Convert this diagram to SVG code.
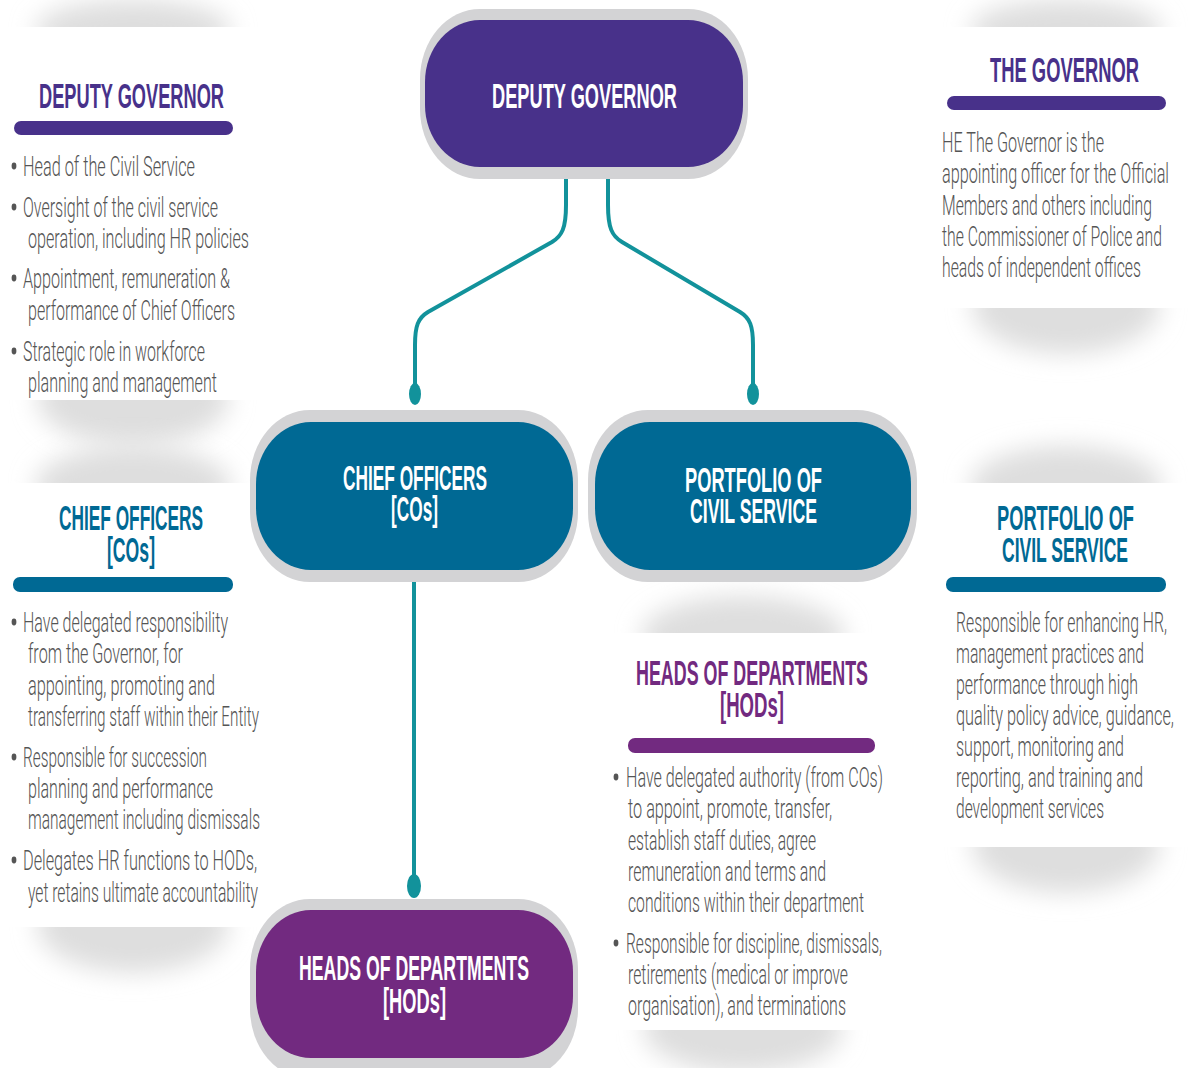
<svg xmlns="http://www.w3.org/2000/svg" width="1188" height="1068" viewBox="0 0 1188 1068">
  <defs>
    <filter id="soft" x="-40%" y="-100%" width="180%" height="300%">
      <feGaussianBlur stdDeviation="12"/>
    </filter>
    <style>
      .card { fill: #ffffff; }
      .sh { fill: #dedede; filter: url(#soft); }
      .ring { fill: #d3d3d5; }
      .purple { fill: #48318a; }
      .teal { fill: #006994; }
      .plum { fill: #722a80; }
      .nodeText { font-family: "Liberation Sans", Arial, sans-serif; font-weight: bold; font-size: 35px; fill: #ffffff; }
      .head { font-family: "Liberation Sans", Arial, sans-serif; font-weight: bold; font-size: 35px; }
      .body { font-family: Roboto, "Liberation Sans", Arial, sans-serif; font-weight: 300; font-size: 28px; fill: #555555; }
      .dot { fill: #555555; }
      .link { fill: none; stroke: #12929b; stroke-width: 4; stroke-linecap: round; stroke-linejoin: round; }
      .pin { fill: #12929b; }
    </style>
  </defs>

  <rect width="1188" height="1068" fill="#ffffff"/>

  <!-- Info cards with soft shadows above and below -->
  <g id="card-deputy-governor">
    <ellipse class="sh" cx="133" cy="30" rx="98" ry="30"/>
    <ellipse class="sh" cx="133" cy="398" rx="96" ry="48"/>
    <rect class="card" x="7" y="27" width="253" height="373"/>
    <text class="head" x="39" y="108" textLength="185" lengthAdjust="spacingAndGlyphs" fill="#48318a">DEPUTY GOVERNOR</text>
    <rect class="purple" x="14" y="121" width="219" height="14" rx="7"/>
    <ellipse class="dot" cx="14" cy="166" rx="2.4" ry="3.4"/>
    <text class="body" x="23" y="176" textLength="172" lengthAdjust="spacingAndGlyphs">Head of the Civil Service</text>
    <ellipse class="dot" cx="14" cy="207" rx="2.4" ry="3.4"/>
    <text class="body" x="23" y="217" textLength="195" lengthAdjust="spacingAndGlyphs">Oversight of the civil service</text>
    <text class="body" x="28" y="248" textLength="221" lengthAdjust="spacingAndGlyphs">operation, including HR policies</text>
    <ellipse class="dot" cx="14" cy="278" rx="2.4" ry="3.4"/>
    <text class="body" x="23" y="288" textLength="207" lengthAdjust="spacingAndGlyphs">Appointment, remuneration &amp;</text>
    <text class="body" x="28" y="320" textLength="207" lengthAdjust="spacingAndGlyphs">performance of Chief Officers</text>
    <ellipse class="dot" cx="14" cy="351" rx="2.4" ry="3.4"/>
    <text class="body" x="23" y="361" textLength="182" lengthAdjust="spacingAndGlyphs">Strategic role in workforce</text>
    <text class="body" x="28" y="392" textLength="189" lengthAdjust="spacingAndGlyphs">planning and management</text>
  </g>

  <g id="card-governor">
    <ellipse class="sh" cx="1066" cy="30" rx="96" ry="30"/>
    <ellipse class="sh" cx="1066" cy="306" rx="94" ry="48"/>
    <rect class="card" x="940" y="27" width="248" height="281"/>
    <text class="head" x="990" y="82" textLength="149" lengthAdjust="spacingAndGlyphs" fill="#48318a">THE GOVERNOR</text>
    <rect class="purple" x="947" y="96" width="219" height="14" rx="7"/>
    <text class="body" x="942" y="152" textLength="162" lengthAdjust="spacingAndGlyphs">HE The Governor is the</text>
    <text class="body" x="942" y="183" textLength="227" lengthAdjust="spacingAndGlyphs">appointing officer for the Official</text>
    <text class="body" x="942" y="215" textLength="210" lengthAdjust="spacingAndGlyphs">Members and others including</text>
    <text class="body" x="942" y="246" textLength="220" lengthAdjust="spacingAndGlyphs">the Commissioner of Police and</text>
    <text class="body" x="942" y="277" textLength="199" lengthAdjust="spacingAndGlyphs">heads of independent offices</text>
  </g>

  <g id="card-chief-officers">
    <ellipse class="sh" cx="133" cy="486" rx="98" ry="40"/>
    <ellipse class="sh" cx="133" cy="925" rx="96" ry="48"/>
    <rect class="card" x="7" y="483" width="253" height="444"/>
    <text class="head" x="59" y="530" textLength="144" lengthAdjust="spacingAndGlyphs" fill="#006994">CHIEF OFFICERS</text>
    <text class="head" x="107" y="562" textLength="48" lengthAdjust="spacingAndGlyphs" fill="#006994">[COs]</text>
    <rect class="teal" x="13" y="577" width="220" height="15" rx="7"/>
    <ellipse class="dot" cx="14" cy="622" rx="2.4" ry="3.4"/>
    <text class="body" x="23" y="632" textLength="205" lengthAdjust="spacingAndGlyphs">Have delegated responsibility</text>
    <text class="body" x="28" y="663" textLength="155" lengthAdjust="spacingAndGlyphs">from the Governor, for</text>
    <text class="body" x="28" y="695" textLength="187" lengthAdjust="spacingAndGlyphs">appointing, promoting and</text>
    <text class="body" x="28" y="726" textLength="231" lengthAdjust="spacingAndGlyphs">transferring staff within their Entity</text>
    <ellipse class="dot" cx="14" cy="757" rx="2.4" ry="3.4"/>
    <text class="body" x="23" y="767" textLength="184" lengthAdjust="spacingAndGlyphs">Responsible for succession</text>
    <text class="body" x="28" y="798" textLength="185" lengthAdjust="spacingAndGlyphs">planning and performance</text>
    <text class="body" x="28" y="829" textLength="232" lengthAdjust="spacingAndGlyphs">management including dismissals</text>
    <ellipse class="dot" cx="14" cy="860" rx="2.4" ry="3.4"/>
    <text class="body" x="23" y="870" textLength="234" lengthAdjust="spacingAndGlyphs">Delegates HR functions to HODs,</text>
    <text class="body" x="28" y="902" textLength="230" lengthAdjust="spacingAndGlyphs">yet retains ultimate accountability</text>
  </g>

  <g id="card-portfolio">
    <ellipse class="sh" cx="1066" cy="486" rx="96" ry="40"/>
    <ellipse class="sh" cx="1066" cy="845" rx="94" ry="48"/>
    <rect class="card" x="940" y="483" width="248" height="364"/>
    <text class="head" x="997" y="530" textLength="137" lengthAdjust="spacingAndGlyphs" fill="#006994">PORTFOLIO OF</text>
    <text class="head" x="1002" y="562" textLength="126" lengthAdjust="spacingAndGlyphs" fill="#006994">CIVIL SERVICE</text>
    <rect class="teal" x="946" y="577" width="220" height="15" rx="7"/>
    <text class="body" x="956" y="632" textLength="211" lengthAdjust="spacingAndGlyphs">Responsible for enhancing HR,</text>
    <text class="body" x="956" y="663" textLength="188" lengthAdjust="spacingAndGlyphs">management practices and</text>
    <text class="body" x="956" y="694" textLength="182" lengthAdjust="spacingAndGlyphs">performance through high</text>
    <text class="body" x="956" y="725" textLength="218" lengthAdjust="spacingAndGlyphs">quality policy advice, guidance,</text>
    <text class="body" x="956" y="756" textLength="168" lengthAdjust="spacingAndGlyphs">support, monitoring and</text>
    <text class="body" x="956" y="787" textLength="187" lengthAdjust="spacingAndGlyphs">reporting, and training and</text>
    <text class="body" x="956" y="818" textLength="148" lengthAdjust="spacingAndGlyphs">development services</text>
  </g>

  <g id="card-heads">
    <ellipse class="sh" cx="743" cy="636" rx="102" ry="40"/>
    <ellipse class="sh" cx="743" cy="1028" rx="100" ry="45"/>
    <rect class="card" x="610" y="633" width="265" height="397"/>
    <text class="head" x="636" y="685" textLength="232" lengthAdjust="spacingAndGlyphs" fill="#722a80">HEADS OF DEPARTMENTS</text>
    <text class="head" x="720" y="717" textLength="64" lengthAdjust="spacingAndGlyphs" fill="#722a80">[HODs]</text>
    <rect class="plum" x="628" y="738" width="247" height="15" rx="7"/>
    <ellipse class="dot" cx="616" cy="777" rx="2.4" ry="3.4"/>
    <text class="body" x="626" y="787" textLength="257" lengthAdjust="spacingAndGlyphs">Have delegated authority (from COs)</text>
    <text class="body" x="628" y="818" textLength="204" lengthAdjust="spacingAndGlyphs">to appoint, promote, transfer,</text>
    <text class="body" x="628" y="850" textLength="188" lengthAdjust="spacingAndGlyphs">establish staff duties, agree</text>
    <text class="body" x="628" y="881" textLength="198" lengthAdjust="spacingAndGlyphs">remuneration and terms and</text>
    <text class="body" x="628" y="912" textLength="236" lengthAdjust="spacingAndGlyphs">conditions within their department</text>
    <ellipse class="dot" cx="616" cy="943" rx="2.4" ry="3.4"/>
    <text class="body" x="626" y="953" textLength="256" lengthAdjust="spacingAndGlyphs">Responsible for discipline, dismissals,</text>
    <text class="body" x="628" y="984" textLength="220" lengthAdjust="spacingAndGlyphs">retirements (medical or improve</text>
    <text class="body" x="628" y="1015" textLength="218" lengthAdjust="spacingAndGlyphs">organisation), and terminations</text>
  </g>

  <!-- Connectors -->
  <g id="connectors">
    <path class="link" d="M566,179 V205 C566,228 562,236 552,242 L428,312 C418,318 415,326 415,345 V386"/>
    <ellipse class="pin" cx="415" cy="394" rx="6" ry="11"/>
    <path class="link" d="M608,179 V205 C608,228 612,236 622,242 L740,312 C750,318 753,326 753,345 V386"/>
    <ellipse class="pin" cx="753" cy="394" rx="6" ry="11"/>
    <path class="link" d="M414,582 V876"/>
    <ellipse class="pin" cx="414" cy="886" rx="7" ry="12"/>
  </g>

  <!-- Hierarchy nodes -->
  <g id="node-deputy-governor">
    <rect class="ring" x="420" y="9" width="328" height="170" rx="60" ry="70"/>
    <rect class="purple" x="425" y="20" width="318" height="147" rx="55" ry="62"/>
    <text class="nodeText" x="492" y="108" textLength="185" lengthAdjust="spacingAndGlyphs">DEPUTY GOVERNOR</text>
  </g>

  <g id="node-chief-officers">
    <rect class="ring" x="250" y="410" width="328" height="172" rx="60" ry="70"/>
    <rect class="teal" x="256" y="422" width="317" height="148" rx="55" ry="62"/>
    <text class="nodeText" x="343" y="490" textLength="144" lengthAdjust="spacingAndGlyphs">CHIEF OFFICERS</text>
    <text class="nodeText" x="391" y="521" textLength="47" lengthAdjust="spacingAndGlyphs">[COs]</text>
  </g>

  <g id="node-portfolio">
    <rect class="ring" x="588" y="410" width="329" height="172" rx="60" ry="70"/>
    <rect class="teal" x="595" y="422" width="316" height="148" rx="55" ry="62"/>
    <text class="nodeText" x="685" y="492" textLength="137" lengthAdjust="spacingAndGlyphs">PORTFOLIO OF</text>
    <text class="nodeText" x="690" y="523" textLength="127" lengthAdjust="spacingAndGlyphs">CIVIL SERVICE</text>
  </g>

  <g id="node-heads">
    <rect class="ring" x="250" y="899" width="328" height="180" rx="60" ry="70"/>
    <rect class="plum" x="256" y="910" width="317" height="148" rx="55" ry="62"/>
    <text class="nodeText" x="299" y="980" textLength="230" lengthAdjust="spacingAndGlyphs">HEADS OF DEPARTMENTS</text>
    <text class="nodeText" x="383" y="1013" textLength="63" lengthAdjust="spacingAndGlyphs">[HODs]</text>
  </g>
</svg>
